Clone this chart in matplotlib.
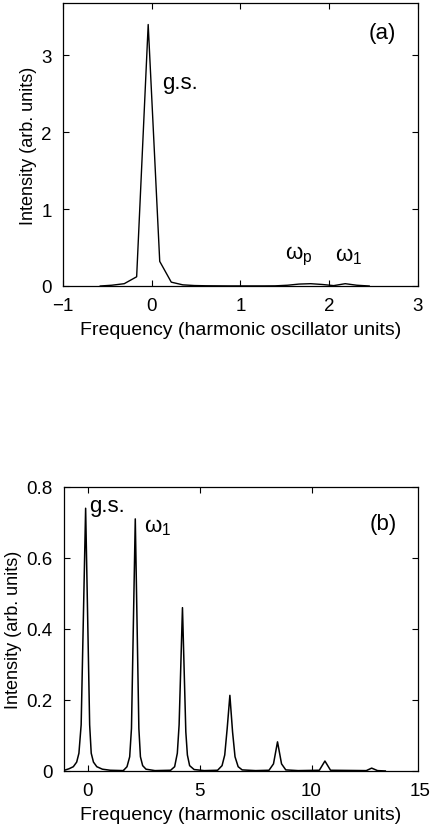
import matplotlib
matplotlib.use("Agg")
import matplotlib.pyplot as plt

plt.rcParams['font.family'] = ['Liberation Sans', 'DejaVu Sans']
plt.rcParams['mathtext.fontset'] = 'custom'
plt.rcParams['mathtext.it'] = 'Liberation Sans'
plt.rcParams['mathtext.rm'] = 'Liberation Sans'

# panel (a): coarse spectrum
freq_a = [-0.58, -0.45, -0.31, -0.17, -0.04, 0.09, 0.22, 0.35, 0.48, 0.61,
          0.74, 0.87, 1.00, 1.13, 1.26, 1.39, 1.53, 1.66, 1.79, 1.92,
          2.05, 2.18, 2.31, 2.45]
inten_a = [0.0, 0.01, 0.03, 0.12, 3.40, 0.32, 0.05, 0.015, 0.006, 0.003,
           0.002, 0.001, 0.001, 0.001, 0.001, 0.002, 0.01, 0.025, 0.03, 0.02,
           0.005, 0.03, 0.01, 0.0]

# panel (b): fine spectrum
freq_b = [-1.05, -0.85, -0.65, -0.5, -0.4, -0.3, -0.1, 0.08, 0.15, 0.25, 0.4, 0.65, 1.0, 1.6,
          1.6, 1.75, 1.87, 1.95, 2.12, 2.28, 2.35, 2.45, 2.6, 3.0,
          3.7, 3.88, 4.0, 4.08, 4.23, 4.38, 4.45, 4.55, 4.75, 5.2,
          5.8, 6.0, 6.12, 6.23, 6.35, 6.47, 6.58, 6.72, 6.9, 7.5,
          8.1, 8.3, 8.48, 8.66, 8.85, 9.4,
          10.35, 10.6, 10.85,
          12.45, 12.69, 12.95, 13.3]
inten_b = [0.002, 0.006, 0.012, 0.025, 0.05, 0.13, 0.74, 0.13, 0.05, 0.025, 0.012, 0.005, 0.002, 0.001,
           0.002, 0.012, 0.04, 0.12, 0.71, 0.12, 0.04, 0.015, 0.005, 0.001,
           0.002, 0.012, 0.05, 0.13, 0.46, 0.11, 0.045, 0.015, 0.004, 0.001,
           0.002, 0.015, 0.045, 0.12, 0.213, 0.11, 0.04, 0.012, 0.003, 0.001,
           0.002, 0.02, 0.082, 0.02, 0.003, 0.001,
           0.002, 0.028, 0.002,
           0.001, 0.008, 0.001, 0.0]

xlab = 'Frequency (harmonic oscillator units)'
ylab = 'Intensity (arb. units)'

fig = plt.figure(figsize=(4.32, 8.29), dpi=100)
ax1 = fig.add_axes([0.1458, 0.6538, 0.8218, 0.3414])
ax2 = fig.add_axes([0.148, 0.0688, 0.8195, 0.3426])

for ax in (ax1, ax2):
    ax.tick_params(direction='in', top=True, right=True, length=4, width=0.8,
                   labelsize=13.5, pad=8)
    for s in ax.spines.values():
        s.set_linewidth(0.9)
    ax.set_xlabel(xlab, fontsize=14, labelpad=5)
    ax.set_ylabel(ylab, fontsize=13, labelpad=3)

ax1.plot(freq_a, inten_a, color='black', lw=1.0)
ax1.set_xlim(-1, 3)
ax1.set_ylim(0, 3.68)
ax1.set_xticks([-1, 0, 1, 2, 3])
ax1.set_xticklabels(['\u22121', '0', '1', '2', '3'])
ax1.set_yticks([0, 1, 2, 3])
ax1.text(0.12, 2.65, 'g.s.', fontsize=16, va='center')
ax1.text(1.50, 0.40, r'$\omega_\mathrm{p}$', fontsize=16, va='center')
ax1.text(2.06, 0.40, r'$\omega_1$', fontsize=16, va='center')
ax1.text(2.60, 3.30, '(a)', fontsize=16, ha='center', va='center')

ax2.plot(freq_b, inten_b, color='black', lw=1.1)
ax2.set_xlim(-1.07, 14.76)
ax2.set_ylim(0, 0.8)
ax2.set_xticks([0, 5, 10])
ax2.set_yticks([0, 0.2, 0.4, 0.6, 0.8])
ax2.set_yticklabels(['0', '0.2', '0.4', '0.6', '0.8'])
ax2.annotate('15', xy=(14.85, 0), xycoords=('data', 'axes fraction'),
             xytext=(0, -8), textcoords='offset points',
             fontsize=13.5, ha='center', va='top', annotation_clip=False)
ax2.text(0.05, 0.748, 'g.s.', fontsize=16, va='center')
ax2.text(2.5, 0.69, r'$\omega_1$', fontsize=16, va='center')
ax2.text(13.2, 0.697, '(b)', fontsize=16, ha='center', va='center')

fig.savefig('out.png', dpi=100)
